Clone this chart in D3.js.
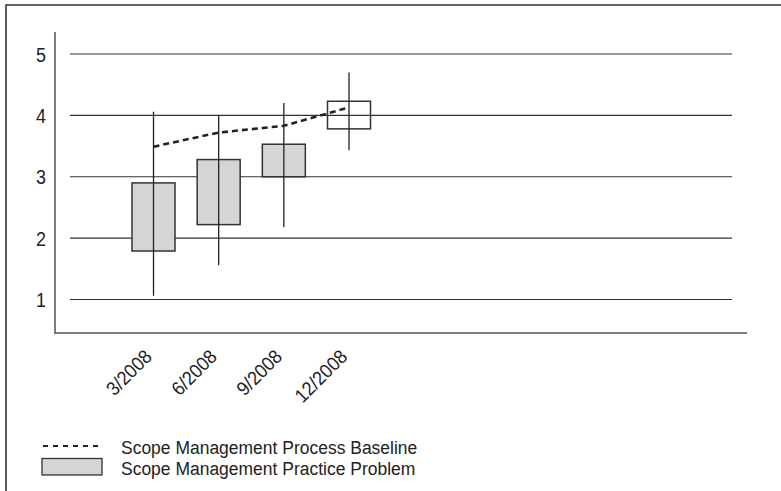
<!DOCTYPE html>
<html><head><meta charset="utf-8">
<script src="https://cdn.jsdelivr.net/npm/d3@7"></script>
<style>
html,body{margin:0;padding:0;background:#fff;}
svg text{font-family:"Liberation Sans",Arial,sans-serif;fill:#222;}
</style></head>
<body><svg id="c" width="781" height="491"></svg>
<script>
const categories = ["3/2008","6/2008","9/2008","12/2008"];
const boxLow   = [1.79, 2.22, 3.00, 3.78];
const boxHigh  = [2.90, 3.28, 3.53, 4.23];
const rangeLow = [1.06, 1.56, 2.18, 3.43];
const rangeHigh= [4.06, 4.00, 4.20, 4.70];
const baseline = [3.49, 3.72, 3.83, 4.13];
const boxFilled= [true, true, true, false];
const yTicks = [1,2,3,4,5];
const legendLabels = ["Scope Management Process Baseline","Scope Management Practice Problem"];

const FONT = '"Liberation Sans",Arial,sans-serif';
const SX = 0.92;
const svg = d3.select("#c");
const y = d3.scaleLinear().domain([1,5]).range([299.5,54]);
const x = d3.scalePoint().domain(categories).range([153.5,349]);
const boxW = 43;

// frame
svg.append("path").attr("d","M6,491V5H781").attr("fill","none").attr("stroke","#333").attr("stroke-width",1.6);

// gridlines
svg.append("g").selectAll("line").data(yTicks).join("line")
  .attr("x1",70).attr("x2",732).attr("y1",d=>y(d)).attr("y2",d=>y(d))
  .attr("stroke","#333").attr("stroke-width",1.2);

// axes lines
svg.append("line").attr("x1",55).attr("x2",55).attr("y1",32).attr("y2",333.5).attr("stroke","#555").attr("stroke-width",1.5);
svg.append("line").attr("x1",54.25).attr("x2",747).attr("y1",333).attr("y2",333).attr("stroke","#555").attr("stroke-width",1.5);

// y labels
const yAxis = d3.axisLeft(y).tickValues(yTicks).tickSize(0).tickPadding(0).tickFormat(d3.format("d"));
const ya = svg.append("g").attr("transform","translate(46,0)").call(yAxis);
ya.select(".domain").remove();
ya.selectAll("text").attr("font-size",19.5).attr("fill","#222").attr("dy","0.36em").attr("x",0)
  .attr("transform",`scale(${SX},1)`).style("font-family",FONT);

// x labels
const xAxis = d3.axisBottom(x).tickSize(0).tickPadding(0);
const xa = svg.append("g").attr("transform","translate(-1,358)").call(xAxis);
xa.select(".domain").remove();
xa.selectAll("text").attr("font-size",19.5).attr("fill","#222").attr("text-anchor","end")
  .attr("dy","0").attr("y",0).attr("transform",`rotate(-45) scale(${SX},1)`)
  .style("font-family",FONT);

// boxes
const idx = d3.range(categories.length);
svg.append("g").selectAll("rect").data(idx).join("rect")
  .attr("x",i=>x(categories[i])-boxW/2).attr("width",boxW)
  .attr("y",i=>y(boxHigh[i])).attr("height",i=>y(boxLow[i])-y(boxHigh[i]))
  .attr("fill",i=>boxFilled[i]?"#d4d5d7":"none").attr("stroke","#333").attr("stroke-width",1.5);

// whiskers
svg.append("g").selectAll("line").data(idx).join("line")
  .attr("x1",i=>x(categories[i])).attr("x2",i=>x(categories[i]))
  .attr("y1",i=>y(rangeHigh[i])).attr("y2",i=>y(rangeLow[i]))
  .attr("stroke","#222").attr("stroke-width",1.3);

// baseline dashed
const line = d3.line().x((d,i)=>x(categories[i])).y(d=>y(d));
svg.append("path").attr("d",line(baseline)).attr("fill","none")
  .attr("stroke","#222").attr("stroke-width",2.6).attr("stroke-dasharray","6,4");

// legend
svg.append("line").attr("x1",43).attr("x2",98).attr("y1",446).attr("y2",446)
  .attr("stroke","#222").attr("stroke-width",2.2).attr("stroke-dasharray","5,5");
svg.append("rect").attr("x",42).attr("y",458.5).attr("width",60).attr("height",16.5)
  .attr("fill","#d4d5d7").attr("stroke","#333").attr("stroke-width",1.3);
svg.append("g").selectAll("g").data(legendLabels).join("g")
  .attr("transform",(d,i)=>`translate(121,${453.5+i*21.5}) scale(${SX},1)`)
  .append("text").attr("x",0).attr("y",0).attr("font-size",19).style("font-family",FONT).text(d=>d);
</script></body></html>
